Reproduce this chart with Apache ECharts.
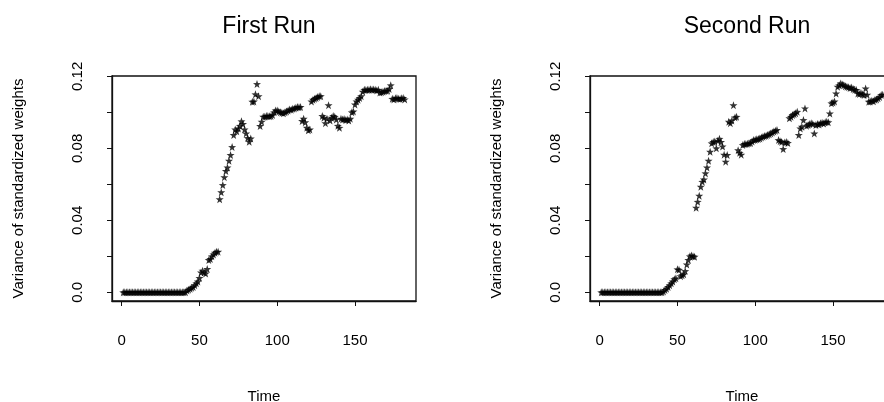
<!DOCTYPE html>
<html>
<head>
<meta charset="utf-8">
<script src="https://cdn.jsdelivr.net/npm/echarts@6/dist/echarts.min.js"></script>
<style>
  html, body { margin: 0; padding: 0; background: #fff; }
  #chart { width: 884px; height: 402px; }
</style>
</head>
<body>
<div id="chart"></div>
<script>
// variance of standardized weights, one value per time step (t = 1..182)
var firstRun = [
  0, 0, 0, 0, 0, 0, 0, 0, 0, 0, 0, 0, 0, 0, 0, 0, 0, 0, 0, 0,
  0, 0, 0, 0, 0, 0, 0, 0, 0, 0, 0, 0, 0, 0, 0, 0, 0, 0, 0, 0, 0,
  0.001, 0.0015, 0.002, 0.0025, 0.003, 0.004, 0.005, 0.006, 0.008, 0.011,
  0.012, 0.011, 0.0105, 0.013, 0.018, 0.0185, 0.020, 0.021, 0.022, 0.0225, 0.0226,
  0.0517, 0.0556, 0.0596, 0.064, 0.0674, 0.0694, 0.0731, 0.0763, 0.0807, 0.0874,
  0.0905, 0.0895, 0.091, 0.0925, 0.095, 0.0935, 0.0905, 0.0883, 0.0857, 0.0837,
  0.0855, 0.1059, 0.106, 0.110, 0.1157, 0.109, 0.0924, 0.0948, 0.0976,
  0.0976, 0.098, 0.098, 0.0978, 0.098, 0.0985, 0.100, 0.101, 0.101, 0.1005,
  0.100, 0.0998, 0.0995, 0.100, 0.1005, 0.101, 0.1016, 0.1015, 0.102, 0.1022, 0.1026, 0.103, 0.1028, 0.103,
  0.0952, 0.0965, 0.0945, 0.0915, 0.090, 0.0905,
  0.106, 0.107, 0.1075, 0.108, 0.1085, 0.109, 0.109,
  0.098, 0.097, 0.094, 0.0965, 0.104, 0.0955, 0.097, 0.098, 0.0975, 0.096, 0.0925, 0.0914,
  0.0965, 0.096, 0.0963, 0.0958, 0.096, 0.0955, 0.0965, 0.100, 0.1005, 0.1044,
  0.106, 0.107, 0.108, 0.109, 0.1115, 0.1125, 0.1124, 0.1126, 0.1125, 0.1128,
  0.1126, 0.1127, 0.1125, 0.1122, 0.1125, 0.111, 0.1112, 0.1115, 0.1118, 0.112,
  0.112, 0.113, 0.115, 0.1075, 0.1072, 0.1078, 0.108, 0.1076, 0.1074, 0.1078, 0.108, 0.1072
];

var secondRun = [
  0, 0, 0, 0, 0, 0, 0, 0, 0, 0, 0, 0, 0, 0, 0, 0, 0, 0, 0, 0,
  0, 0, 0, 0, 0, 0, 0, 0, 0, 0, 0, 0, 0, 0, 0, 0, 0, 0, 0, 0,
  0.0005, 0.0013, 0.002, 0.003, 0.004, 0.005, 0.006, 0.0073, 0.0078, 0.0128,
  0.0125, 0.009, 0.0095, 0.010, 0.0118, 0.0155, 0.018, 0.020, 0.0205, 0.020, 0.0198,
  0.047, 0.0503, 0.0537, 0.0587, 0.0614, 0.0627, 0.0661, 0.0694, 0.0731, 0.0781,
  0.0828, 0.0835, 0.0838, 0.080, 0.0842, 0.0853, 0.0835, 0.081, 0.0765, 0.0726, 0.0763,
  0.0948, 0.094, 0.0955, 0.104, 0.0972, 0.0975, 0.079, 0.0775, 0.0765,
  0.0818, 0.0824, 0.0824, 0.0826, 0.0828, 0.083, 0.0838, 0.0846, 0.0848, 0.085,
  0.0852, 0.0855, 0.086, 0.0865, 0.0868, 0.087, 0.0874, 0.0878, 0.0883, 0.0888, 0.0893, 0.0898, 0.0902,
  0.0846, 0.084, 0.0836, 0.0796, 0.0832, 0.0835, 0.083,
  0.0967, 0.0975, 0.0985, 0.099, 0.0995, 0.1003,
  0.0874, 0.091, 0.092, 0.0957, 0.1022, 0.0925, 0.093, 0.0935, 0.094, 0.0935,
  0.0883, 0.093, 0.0935, 0.0932, 0.094, 0.0942, 0.0938, 0.0945, 0.0948, 0.0945,
  0.0994, 0.105, 0.1055, 0.106, 0.1105, 0.1142, 0.115, 0.1161, 0.1155, 0.115,
  0.1145, 0.1142, 0.114, 0.1135, 0.1138, 0.113, 0.1125, 0.1124, 0.1105, 0.1102, 0.1108, 0.110, 0.1096,
  0.1133, 0.1098, 0.1059, 0.106, 0.1065, 0.1062, 0.107, 0.1072, 0.1078, 0.1085, 0.1096, 0.1098
];

var titles = ['First Run', 'Second Run'];
var xTicks = [0, 50, 100, 150];
var yTicks = [0, 0.02, 0.04, 0.06, 0.08, 0.10, 0.12];
var yLabels = [0, 0.04, 0.08, 0.12];

var FONT = 'Liberation Sans, Arial, Helvetica, sans-serif';
var STAR = 'path://M0,-10 L2.35,-3.24 L9.51,-3.09 L3.8,1.24 L5.88,8.09 L0,4 L-5.88,8.09 L-3.8,1.24 L-9.51,-3.09 L-2.35,-3.24 Z';

function toPoints(arr) {
  return arr.map(function (v, i) { return [i + 1, v]; });
}

// second panel runs past the right edge of the page, as in the original
var grids = [
  { left: 112, top: 76, width: 304, height: 225 },
  { left: 590, top: 76, width: 304, height: 225 }
];

var chart = echarts.init(document.getElementById('chart'));

chart.setOption({
  backgroundColor: '#fff',
  animation: false,
  title: titles.map(function (t, i) {
    return {
      text: t,
      left: grids[i].left + grids[i].width / 2,
      top: 10,
      textAlign: 'center',
      textStyle: { fontFamily: FONT, fontSize: 23, fontWeight: 'normal', color: '#000' }
    };
  }),
  grid: grids.map(function (g) {
    return Object.assign({
      show: true, borderColor: '#111', borderWidth: 1.3, backgroundColor: 'transparent',
      outerBoundsMode: 'none', containLabel: false
    }, g);
  }),
  xAxis: grids.map(function (g, i) {
    return {
      type: 'value',
      gridIndex: i,
      min: -6.24,
      max: 189.24,
      name: 'Time',
      nameLocation: 'middle',
      nameGap: 88,
      nameTextStyle: { fontFamily: FONT, fontSize: 15, color: '#000' },
      axisLine: { onZero: false, lineStyle: { color: '#111', width: 1.3 } },
      axisTick: { show: true, length: 5, lineStyle: { color: '#111' }, customValues: xTicks },
      axisLabel: { fontFamily: FONT, fontSize: 15, color: '#000', margin: 32, customValues: xTicks },
      splitLine: { show: false }
    };
  }),
  yAxis: grids.map(function (g, i) {
    return {
      type: 'value',
      gridIndex: i,
      min: -0.0048,
      max: 0.1202,
      name: 'Variance of standardized weights',
      nameLocation: 'middle',
      nameGap: 86,
      nameTextStyle: { fontFamily: FONT, fontSize: 15, color: '#000' },
      axisLine: { onZero: false, lineStyle: { color: '#111', width: 1.3 } },
      axisTick: { show: true, length: 5, lineStyle: { color: '#111' }, customValues: yTicks },
      axisLabel: {
        fontFamily: FONT, fontSize: 15, color: '#000', margin: 27, rotate: 90,
        customValues: yLabels,
        formatter: function (v) { return v === 0 ? '0.0' : v.toFixed(2); }
      },
      splitLine: { show: false }
    };
  }),
  series: [firstRun, secondRun].map(function (arr, i) {
    return {
      type: 'scatter',
      xAxisIndex: i,
      yAxisIndex: i,
      symbol: STAR,
      symbolSize: 8,
      itemStyle: { color: '#000' },
      data: toPoints(arr)
    };
  })
});
</script>
</body>
</html>
